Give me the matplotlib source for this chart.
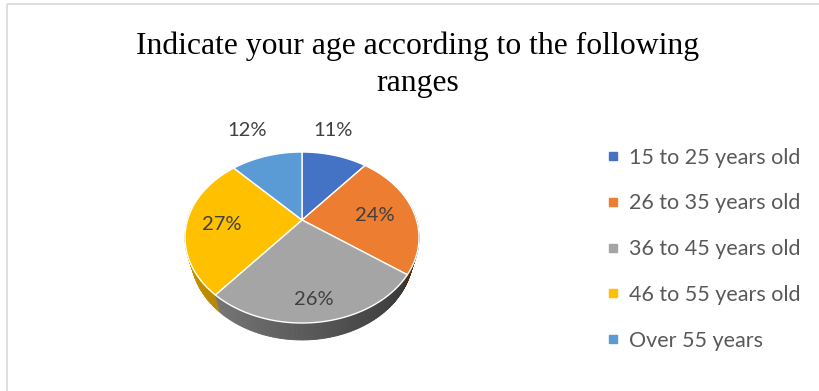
import numpy as np
import matplotlib
matplotlib.use("Agg")
import matplotlib.pyplot as plt
from matplotlib.patches import Polygon, Rectangle
from matplotlib.lines import Line2D
from matplotlib.colors import to_rgb

# ---- data ----
title = "Indicate your age according to the following\nranges"
categories = ["15 to 25 years old", "26 to 35 years old", "36 to 45 years old",
              "46 to 55 years old", "Over 55 years"]
shares = [11, 24, 26, 27, 12]
colors = ["#4472C4", "#ED7D31", "#A5A5A5", "#FFC000", "#5B9BD5"]

# ---- layout / camera ----
W, H = 819, 391
CX, CY = 302.0, 220.0          # pixel position of the pie apex
SCALE = 390.7                  # projection scale (pixels)
DIST = 3.412                   # camera distance (in pie radii)
ELEV = np.arcsin(0.7154)       # camera elevation
THICK = 0.246                  # pie thickness (in pie radii)
SIN_E, COS_E = np.sin(ELEV), np.cos(ELEV)

# label placement: radius on the top face and extra pixel offset
label_radius = [1.0, 0.65, 0.8, 0.7, 1.0]
label_offset = [(-1, -25), (0, 2), (-2, 2), (0, 3), (-19, -26)]


def proj(x, y, z):
    """Perspective projection of a point of the pie (z toward the viewer)."""
    depth = DIST - y * SIN_E - z * COS_E
    up = y * COS_E - z * SIN_E
    return CX + SCALE * x / depth, CY - SCALE * up / depth


def rim(phi, r=1.0, y=0.0):
    return proj(r * np.sin(phi), y, -r * np.cos(phi))


fig = plt.figure(figsize=(W / 100, H / 100), dpi=100)
ax = fig.add_axes([0, 0, 1, 1])
ax.set_xlim(0, W)
ax.set_ylim(H, 0)
ax.axis("off")

# chart area border
ax.add_patch(Rectangle((7, 4), W + 20, H + 20, fill=False,
                       edgecolor="#D9D9D9", lw=1.2, zorder=0))

total = float(sum(shares))
bounds = np.concatenate([[0], np.cumsum(shares) / total]) * 2 * np.pi

# side walls, drawn back to front
quads = []
for i in range(len(shares)):
    a0, a1 = bounds[i], bounds[i + 1]
    n = max(4, int((a1 - a0) / np.radians(1.0)))
    phis = np.linspace(a0, a1, n + 1)
    base = np.array(to_rgb(colors[i]))
    for p0, p1 in zip(phis[:-1], phis[1:]):
        pm = 0.5 * (p0 + p1)
        zc = -np.cos(pm)
        if zc < -0.2:
            continue
        shade = 0.55 - 0.25 * np.sin(pm)
        col = np.clip(base * shade, 0, 1)
        pts = [rim(p0), rim(p1), rim(p1, y=-THICK), rim(p0, y=-THICK)]
        quads.append((zc, pts, col))
quads.sort(key=lambda q: q[0])
for zc, pts, col in quads:
    ax.add_patch(Polygon(pts, closed=True, facecolor=col, edgecolor=col,
                         lw=0.6, zorder=1))

# top faces
for i in range(len(shares)):
    a0, a1 = bounds[i], bounds[i + 1]
    phis = np.linspace(a0, a1, 120)
    pts = [proj(0, 0, 0)] + [rim(p) for p in phis]
    ax.add_patch(Polygon(pts, closed=True, facecolor=colors[i],
                         edgecolor="white", lw=1.0, joinstyle="round", zorder=2))

# data labels
for i, v in enumerate(shares):
    mid = 0.5 * (bounds[i] + bounds[i + 1])
    px, py = rim(mid, r=label_radius[i])
    dx, dy = label_offset[i]
    ax.text(px + dx, py + dy, f"{v}%", ha="center", va="center",
            fontsize=14.5, color="#404040", family="Lato", zorder=5)

# title
ax.text(418, 65, title, ha="center", va="center", fontsize=22.8,
        family="Liberation Serif", color="black", linespacing=1.38)

# legend
handles = [Line2D([], [], marker="s", linestyle="", markersize=5.5,
                  markerfacecolor=c, markeredgecolor=c) for c in colors]
fig.legend(handles, categories, loc="upper left",
           bbox_to_anchor=(604.4 / W, 1 - 147.5 / H), frameon=False,
           prop={"family": "Lato", "size": 15.5}, labelcolor="#595959",
           handlelength=0.8, handletextpad=0.34, labelspacing=1.2,
           borderpad=0, borderaxespad=0)

fig.savefig("out.png", dpi=100)
